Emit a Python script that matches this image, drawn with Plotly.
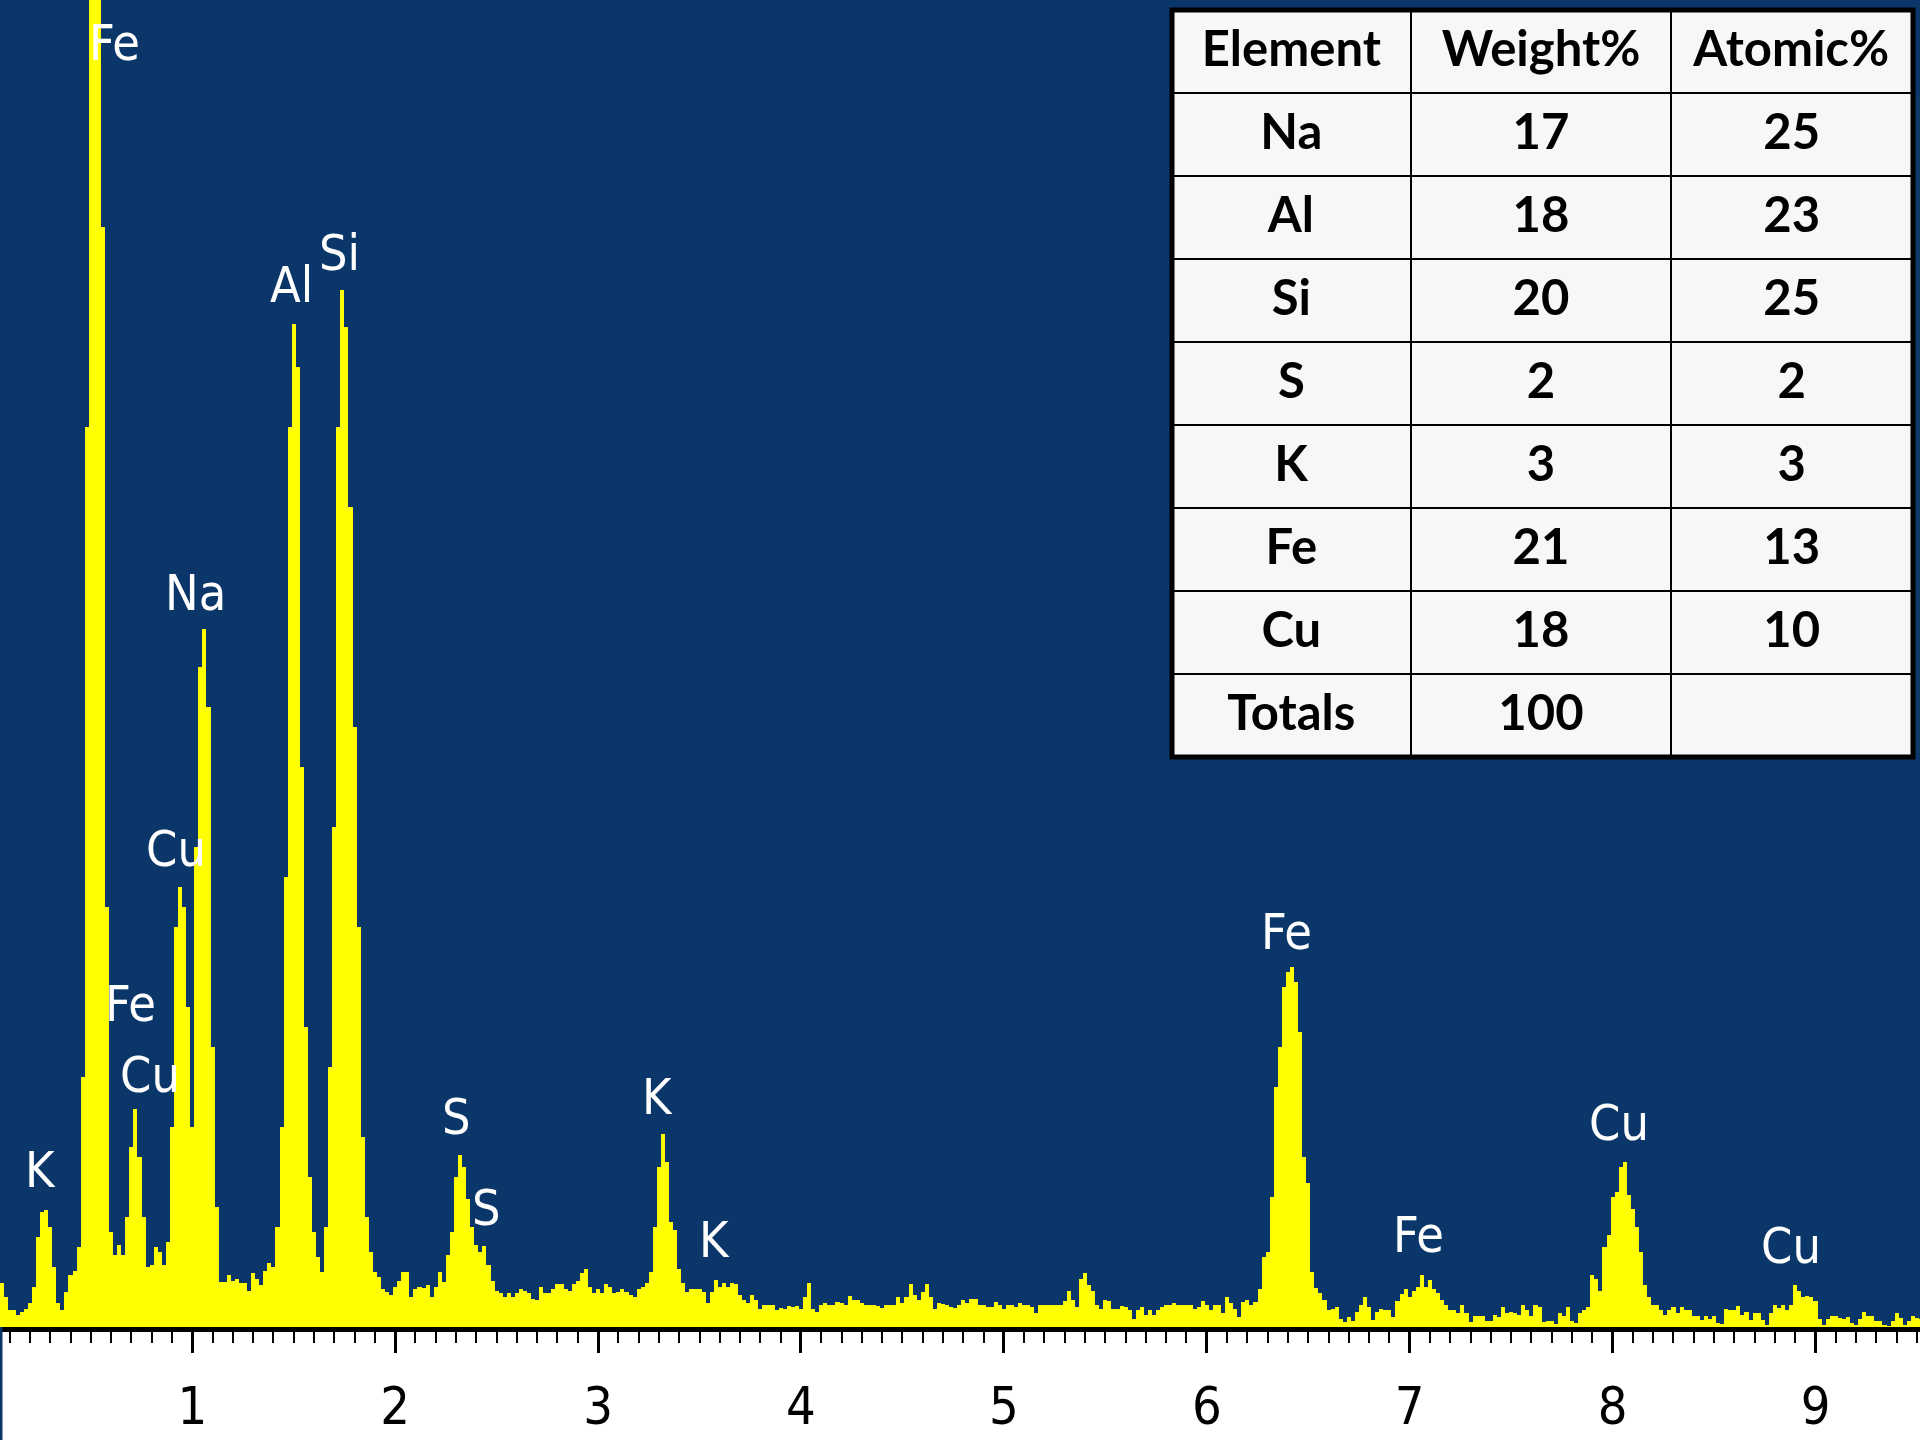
import numpy as np
import plotly.graph_objects as go

# ---------------- data ----------------
# EDS spectrum: counts per 0.02 keV channel, first channel at 0.06 keV
counts = [
    44, 30, 17, 17, 12, 15, 18, 24, 40, 90,            # 0.06
    115, 117, 100, 60, 24, 17, 35, 52, 56, 80,         # 0.26
    250, 900, 1500, 1800, 1800, 1100, 420, 95, 72, 82,  # 0.46
    72, 110, 180, 218, 170, 110, 60, 62, 80, 75,       # 0.66
    62, 85, 200, 400, 440, 420, 320, 200, 480, 660,    # 0.86
    698, 620, 280, 120, 45, 45, 52, 46, 48, 44,        # 1.06
    44, 36, 54, 48, 42, 56, 64, 60, 100, 200,          # 1.26
    450, 900, 1003, 960, 560, 300, 150, 95, 70, 55,    # 1.46
    100, 260, 500, 900, 1037, 1000, 820, 600, 400, 190, # 1.66
    110, 75, 55, 50, 38, 35, 32, 40, 46, 55,           # 1.86
    55, 30, 38, 40, 39, 42, 30, 40, 55, 45,            # 2.06
    72, 95, 150, 172, 160, 128, 100, 82, 75, 81,       # 2.26
    62, 46, 36, 34, 30, 34, 30, 34, 38, 36,            # 2.46
    34, 28, 27, 40, 34, 34, 38, 43, 43, 38,            # 2.66
    36, 43, 46, 54, 58, 40, 34, 38, 34, 43,            # 2.86
    40, 34, 35, 38, 35, 32, 30, 38, 40, 44,            # 3.06
    55, 100, 160, 193, 165, 105, 97, 58, 44, 35,       # 3.26
    38, 38, 38, 35, 24, 35, 47, 40, 44, 40,            # 3.46
    44, 43, 32, 27, 24, 32, 27, 18, 22, 22,            # 3.66
    22, 17, 19, 18, 21, 20, 21, 18, 30, 44,            # 3.86
    18, 15, 22, 24, 22, 22, 25, 24, 22, 31,            # 4.06
    27, 27, 24, 22, 22, 22, 21, 19, 22, 22,            # 4.26
    22, 30, 24, 30, 43, 32, 27, 35, 43, 30,            # 4.46
    18, 24, 23, 22, 20, 19, 22, 27, 24, 28,            # 4.66
    28, 22, 22, 20, 20, 25, 22, 18, 22, 22,            # 4.86
    20, 24, 22, 22, 20, 14, 22, 22, 22, 22,            # 5.06
    22, 22, 26, 36, 27, 20, 48, 54, 42, 36,            # 5.26
    22, 18, 27, 26, 18, 18, 21, 20, 17, 8,             # 5.46
    17, 20, 12, 17, 12, 17, 20, 22, 22, 24,            # 5.66
    22, 22, 22, 22, 18, 20, 26, 22, 17, 22,            # 5.86
    22, 14, 30, 24, 18, 10, 25, 27, 22, 25,            # 6.06
    38, 70, 75, 130, 240, 280, 340, 355, 360, 345,     # 6.26
    295, 170, 144, 55, 39, 34, 27, 17, 18, 20,         # 6.46
    8, 5, 10, 6, 15, 22, 30, 20, 7, 15,                # 6.66
    18, 17, 17, 10, 26, 33, 38, 30, 36, 40,            # 6.86
    52, 40, 47, 38, 34, 27, 22, 17, 17, 14,            # 7.06
    22, 14, 5, 11, 11, 11, 6, 6, 12, 10,               # 7.26
    20, 14, 15, 14, 12, 22, 17, 11, 22, 20,            # 7.46
    5, 6, 6, 3, 14, 11, 20, 6, 4, 14,                  # 7.66
    17, 20, 52, 48, 36, 80, 92, 130, 135, 160,         # 7.86
    165, 132, 118, 100, 75, 42, 30, 22, 22, 17,        # 8.06
    12, 17, 20, 14, 20, 17, 17, 11, 11, 7,             # 8.26
    11, 8, 11, 4, 3, 18, 17, 17, 21, 12,               # 8.46
    15, 7, 14, 14, 7, 2, 14, 22, 19, 22,               # 8.66
    17, 22, 42, 36, 30, 31, 30, 26, 8, 2,              # 8.86
    8, 11, 11, 9, 8, 10, 4, 2, 8, 15,                  # 9.06
    11, 11, 6, 6, 2, 1, 6, 14, 9, 2,                   # 9.26
    6, 11, 9, 8,                                       # 9.46
]
channel_start = 0.06
channel_width = 0.02
energies = np.round(channel_start + channel_width * np.arange(len(counts)), 2)

# peak labels (text, energy keV, counts level)
label_text = ["Fe", "K", "Fe", "Cu", "Cu", "Na", "Al", "Si", "S", "S",
              "K", "K", "Fe", "Fe", "Cu", "Cu"]
label_e = [0.619, 0.250, 0.698, 0.792, 0.920, 1.018, 1.487, 1.728, 2.300, 2.448,
           3.295, 3.576, 6.391, 7.041, 8.032, 8.880]
label_c = [1284, 157, 323, 252, 478, 734, 1042, 1074, 210, 119,
           230, 87, 395, 92, 204, 81]

# composition table
tbl_header = ["Element", "Weight%", "Atomic%"]
tbl_element = ["Na", "Al", "Si", "S", "K", "Fe", "Cu", "Totals"]
tbl_weight = ["17", "18", "20", "2", "3", "21", "18", "100"]
tbl_atomic = ["25", "23", "25", "2", "3", "13", "10", ""]

x_range = [0.0525, 9.515]
y_range = [0, 1327]
major_ticks = list(range(1, 10))
half_ticks = [k + 0.5 for k in range(0, 10)]

# ---------------- style ----------------
BLUE = "#0a3669"
YELLOW = "#ffff00"
NARROW = "Liberation Sans Narrow, Arial Narrow, DejaVu Sans Condensed, Roboto Condensed, Liberation Sans, sans-serif"
TFONT = "Lato, Carlito, Calibri, Open Sans, sans-serif"

W, H = 1920, 1440
MB = 113
plot_h = H - MB
row_h = 83
tbl_top_px = 10
tbl_x = [1172 / W, 1913 / W]
tbl_y_top = 1 - tbl_top_px / plot_h
tbl_y_bot = 1 - (tbl_top_px + row_h * (len(tbl_element) + 1)) / plot_h

fig = go.Figure()

fig.add_trace(go.Bar(
    x=energies, y=counts, width=channel_width,
    marker=dict(color=YELLOW, line=dict(width=0)),
    hoverinfo="skip", showlegend=False,
))

bold = lambda v: [f"<b>{s}</b>" if s else "" for s in v]
fig.add_trace(go.Table(
    domain=dict(x=tbl_x, y=[tbl_y_bot, tbl_y_top]),
    columnwidth=[239, 261, 241],
    header=dict(values=bold(tbl_header), height=row_h, align="center",
                fill_color="#f7f7f7", line=dict(color="black", width=2),
                font=dict(family=TFONT, size=49, color="black")),
    cells=dict(values=[bold(tbl_element), bold(tbl_weight), bold(tbl_atomic)],
               height=row_h, align="center",
               fill_color="#f7f7f7", line=dict(color="black", width=2),
               font=dict(family=TFONT, size=49, color="black")),
))

annotations = [
    dict(x=e, y=c, xref="x", yref="y", text=t, showarrow=False,
         font=dict(family=NARROW, size=50, color="white"),
         xanchor="center", yanchor="middle")
    for t, e, c in zip(label_text, label_e, label_c)
]

fig.update_layout(
    width=W, height=H, autosize=False,
    margin=dict(l=0, r=0, t=0, b=MB, pad=0),
    paper_bgcolor="white", plot_bgcolor=BLUE,
    bargap=0, showlegend=False,
    xaxis=dict(range=x_range, showgrid=False, zeroline=False,
               showline=True, linecolor="black", linewidth=5,
               ticks="outside", ticklen=21, tickwidth=3, tickcolor="black",
               tickvals=major_ticks, ticktext=[str(v) for v in major_ticks],
               tickfont=dict(family=NARROW, size=52, color="black"),
               ticklabelstandoff=9,
               minor=dict(dtick=0.1, tick0=0, ticks="outside", ticklen=11,
                          tickwidth=2, tickcolor="black"),
               fixedrange=True),
    xaxis2=dict(range=x_range, overlaying="x", anchor="y", side="bottom",
                showgrid=False, zeroline=False,
                showline=True, linecolor="black", linewidth=5,
                ticks="outside", ticklen=16, tickwidth=2, tickcolor="black",
                tickvals=half_ticks, showticklabels=False, fixedrange=True),
    yaxis=dict(range=y_range, visible=False, fixedrange=True),
    annotations=annotations,
    shapes=[
        dict(type="rect", xref="paper", yref="paper",
             x0=tbl_x[0], x1=tbl_x[1], y0=tbl_y_bot, y1=tbl_y_top,
             line=dict(color="black", width=5), layer="above"),
        dict(type="line", xref="paper", yref="paper",
             x0=0, x1=0, y0=-MB / plot_h, y1=0,
             line=dict(color=BLUE, width=5)),
    ],
)

fig.write_html("out.html", config={"displayModeBar": False},
               post_script="document.body.style.margin='0';")
